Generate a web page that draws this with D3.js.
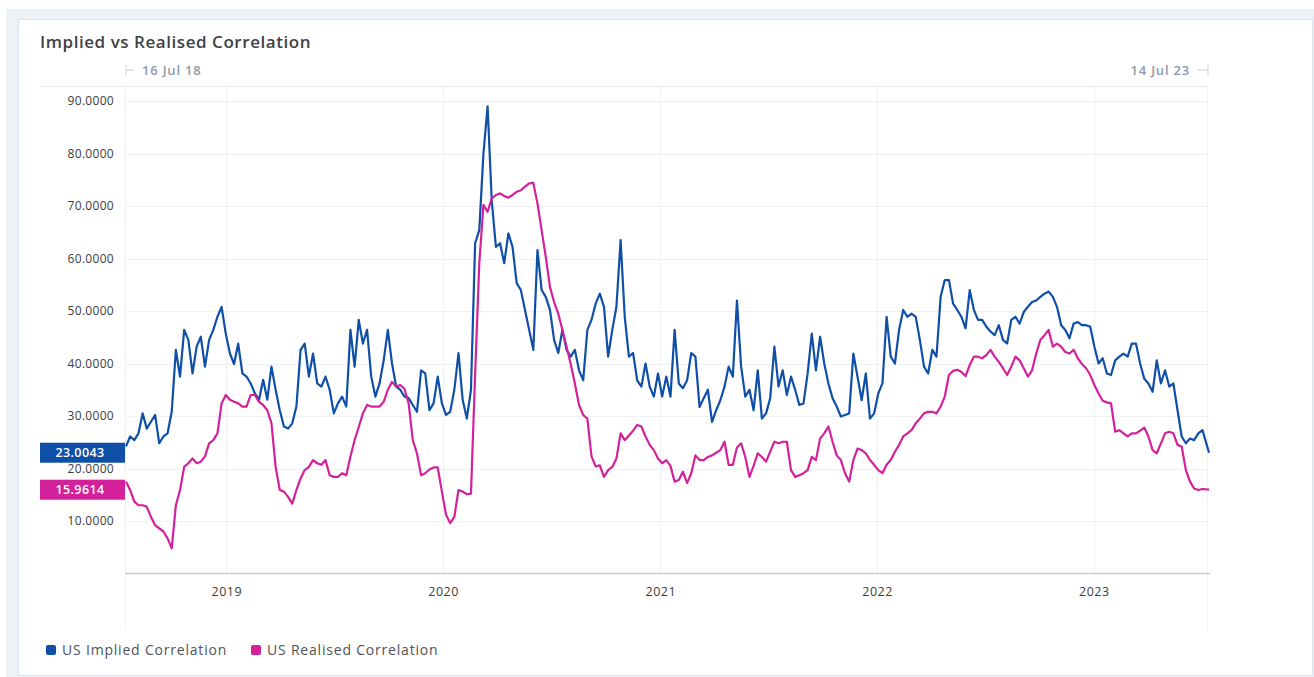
<!DOCTYPE html>
<html>
<head>
<meta charset="utf-8">
<script src="https://cdn.jsdelivr.net/npm/d3@7"></script>
<style>
  body { margin: 0; background: #fff; }
  text { font-family: "Open Sans", "Noto Sans", sans-serif; }
</style>
</head>
<body>
<div id="chart"></div>
<script>
// weekly readings, starting 16 Jul 2018, last point 14 Jul 2023
let startDate = new Date(2018, 6, 16);
let endDate = new Date(2023, 6, 14);

let seriesNames = ["US Implied Correlation", "US Realised Correlation"];
let seriesColors = ["#0f4fa8", "#d3219b"];

let impliedValues = [
    24.2, 26.1, 25.4, 26.7, 30.5, 27.6, 28.9, 30.2, 24.8, 26.1,
    26.7, 30.8, 42.6, 37.5, 46.4, 44.5, 38.1, 43.2, 45.1, 39.4,
    44.5, 46.4, 48.9, 50.8, 45.7, 41.9, 39.9, 43.8, 38.1, 37.5,
    36.2, 34.3, 33.1, 36.9, 33.1, 39.4, 35.0, 31.1, 28.0, 27.6,
    28.6, 31.8, 42.6, 43.8, 37.5, 41.9, 36.2, 35.6, 37.5, 35.0,
    30.5, 32.4, 33.7, 31.8, 46.4, 39.4, 48.3, 43.8, 46.4, 37.5,
    33.7, 36.2, 40.6, 46.4, 40.0, 35.6, 35.0, 33.7, 33.4, 32.1,
    30.8, 38.7, 38.1, 31.1, 32.4, 37.5, 32.4, 30.2, 30.8, 35.0,
    42.0, 33.1, 29.5, 35.0, 62.9, 65.4, 80.0, 89.0, 71.0, 62.2,
    62.9, 59.1, 64.8, 62.2, 55.3, 54.0, 50.2, 46.4, 42.6, 61.6,
    54.0, 52.7, 50.2, 44.5, 42.0, 46.4, 42.6, 41.3, 42.6, 38.7,
    36.8, 46.4, 48.3, 51.4, 53.3, 50.8, 41.3, 46.4, 50.8, 63.5,
    48.9, 41.3, 42.0, 36.8, 35.6, 40.0, 35.6, 33.7, 38.1, 33.7,
    37.5, 33.7, 46.4, 36.2, 35.3, 36.8, 42.0, 41.3, 31.7, 33.4,
    35.0, 28.9, 31.1, 33.0, 35.6, 39.4, 37.5, 52.0, 39.4, 33.7,
    35.0, 31.1, 38.7, 29.5, 30.5, 33.4, 43.2, 35.6, 38.7, 34.0,
    37.5, 35.0, 32.1, 32.4, 38.1, 45.7, 38.7, 45.1, 40.0, 36.2,
    33.4, 31.8, 29.9, 30.2, 30.5, 41.9, 37.5, 33.0, 38.1, 29.5,
    30.5, 34.3, 36.2, 48.9, 41.3, 40.0, 46.4, 50.2, 48.9, 49.5,
    48.9, 44.5, 39.4, 38.1, 42.6, 41.3, 52.7, 55.9, 55.9, 51.4,
    50.2, 48.9, 46.7, 54.0, 50.2, 48.3, 48.3, 47.0, 46.1, 45.4,
    47.3, 44.5, 43.8, 48.3, 48.9, 47.6, 49.8, 50.8, 51.7, 52.0,
    52.7, 53.3, 53.7, 52.7, 50.8, 47.3, 46.4, 44.8, 47.6, 47.9,
    47.3, 47.3, 47.0, 43.2, 40.0, 41.0, 38.1, 37.8, 40.6, 41.3,
    41.9, 41.3, 43.8, 43.8, 40.0, 37.1, 36.2, 34.6, 40.6, 36.2,
    38.7, 35.6, 36.2, 31.1, 26.1, 24.8, 25.7, 25.4, 26.7, 27.3,
    23.0043
];

let realisedValues = [
    17.5, 15.9, 13.7, 13.0, 13.0, 12.7, 10.8, 9.2, 8.6, 8.0,
    6.7, 4.8, 13.0, 15.9, 20.3, 21.0, 21.9, 21.0, 21.3, 22.3,
    24.8, 25.4, 26.7, 32.4, 34.0, 33.1, 32.7, 32.4, 31.8, 31.8,
    34.0, 34.0, 32.7, 32.1, 31.1, 28.6, 20.3, 15.9, 15.6, 14.6,
    13.3, 15.9, 18.1, 19.7, 20.3, 21.6, 21.0, 20.7, 21.6, 18.7,
    18.4, 18.4, 19.1, 18.7, 22.3, 25.4, 27.9, 30.5, 32.1, 31.8,
    31.8, 31.8, 32.7, 35.0, 36.5, 35.6, 35.9, 35.2, 32.4, 25.4,
    22.9, 18.7, 19.1, 19.8, 20.2, 20.2, 15.6, 11.2, 9.6, 10.8,
    15.9, 15.6, 15.1, 15.2, 38.0, 59.0, 70.2, 68.9, 71.4, 72.1,
    72.4, 71.9, 71.6, 72.1, 72.7, 73.0, 73.7, 74.3, 74.4, 70.5,
    65.4, 60.3, 54.6, 51.7, 49.5, 46.4, 43.2, 39.9, 36.2, 32.1,
    30.2, 29.5, 22.3, 20.4, 20.6, 18.4, 19.7, 20.3, 21.9, 26.7,
    25.4, 26.3, 27.2, 28.3, 28.0, 26.1, 24.5, 23.5, 21.9, 21.0,
    21.6, 20.5, 17.5, 17.8, 19.4, 17.2, 19.1, 22.5, 21.6, 21.6,
    22.2, 22.5, 23.0, 23.5, 25.1, 20.7, 20.7, 24.0, 24.8, 22.2,
    18.4, 20.5, 22.9, 22.2, 21.3, 23.2, 25.1, 24.8, 25.1, 25.1,
    19.7, 18.4, 18.7, 19.1, 19.7, 22.2, 21.6, 25.7, 26.7, 28.0,
    25.1, 22.5, 21.6, 19.1, 17.5, 21.6, 23.8, 23.5, 22.9, 21.6,
    20.7, 19.7, 19.1, 20.7, 21.6, 23.2, 24.5, 26.1, 26.7, 27.3,
    28.6, 29.5, 30.5, 30.8, 30.8, 30.5, 31.8, 33.7, 37.8, 38.6,
    38.8, 38.4, 37.6, 39.7, 41.3, 41.3, 41.0, 41.6, 42.6, 41.3,
    40.3, 39.1, 37.8, 39.4, 41.3, 40.6, 39.1, 37.5, 38.7, 41.9,
    44.5, 45.4, 46.4, 43.2, 43.8, 43.2, 42.2, 41.9, 42.6, 41.0,
    39.9, 39.1, 37.8, 35.9, 34.3, 32.9, 32.6, 32.4, 27.0, 27.3,
    26.7, 26.1, 26.7, 26.7, 27.2, 27.8, 26.1, 23.5, 22.9, 24.8,
    26.7, 27.0, 26.7, 24.5, 24.2, 19.7, 17.5, 16.2, 15.9, 16.1,
    15.9614
];

let yTicks = [10, 20, 30, 40, 50, 60, 70, 80, 90];
let yearTicks = [2019, 2020, 2021, 2022, 2023];

let W = 1314, H = 677;
let margin = {"top": 87, "left": 126, "right": 105, "bottom": 104};

let svg = d3.select("#chart").append("svg")
    .attr("width", W)
    .attr("height", H);

// panel frame
svg.append("rect").attr("x", 6).attr("y", 9).attr("width", W - 6).attr("height", H - 9).attr("fill", "#eef2f6");
svg.append("rect").attr("x", 18.5).attr("y", 19.5).attr("width", 1294).attr("height", 656)
    .attr("fill", "#fff").attr("stroke", "#dde3ea");

let x = d3.scaleTime().domain([startDate, endDate]).range([margin.left, 1209]);
let y = d3.scaleLinear().domain([0, 90]).range([573.5, 101]);

function makeRows(values){
    return values.map((v, i) => ({
        date: i === values.length - 1 ? endDate : d3.timeWeek.offset(startDate, i),
        value: v
    }));
}
let series = [makeRows(impliedValues), makeRows(realisedValues)];

// title + range labels
svg.append("text").attr("x", 40).attr("y", 48)
    .attr("font-size", 17).attr("font-weight", 600).attr("fill", "#3f4245")
    .attr("letter-spacing", 0.55)
    .text("Implied vs Realised Correlation");

svg.append("line").attr("x1", 126).attr("x2", 126).attr("y1", 65).attr("y2", 75).attr("stroke", "#c9d1da");
svg.append("line").attr("x1", 126).attr("x2", 134).attr("y1", 70).attr("y2", 70).attr("stroke", "#c9d1da");
svg.append("text").attr("x", 142).attr("y", 75)
    .attr("font-size", 13).attr("font-weight", 600).attr("fill", "#8d9aaa")
    .attr("letter-spacing", 0.8)
    .text(d3.timeFormat("%d %b %y")(startDate));

svg.append("line").attr("x1", 1208).attr("x2", 1208).attr("y1", 65).attr("y2", 75).attr("stroke", "#c9d1da");
svg.append("line").attr("x1", 1198).attr("x2", 1208).attr("y1", 70).attr("y2", 70).attr("stroke", "#c9d1da");
svg.append("text").attr("x", 1190).attr("y", 75).attr("text-anchor", "end")
    .attr("font-size", 13).attr("font-weight", 600).attr("fill", "#8d9aaa")
    .attr("letter-spacing", 0.8)
    .text(d3.timeFormat("%d %b %y")(endDate));

svg.append("line").attr("x1", 40).attr("x2", 1208).attr("y1", 86.5).attr("y2", 86.5).attr("stroke", "#e9edf1");

// grid
svg.append("g").selectAll("line").data(yTicks).enter().append("line")
    .attr("x1", margin.left).attr("x2", 1208)
    .attr("y1", d => Math.round(y(d)) + 0.5).attr("y2", d => Math.round(y(d)) + 0.5)
    .attr("stroke", "#eef1f5");

let yearDates = yearTicks.map(yr => new Date(yr, 0, 1));
svg.append("g").selectAll("line").data(yearDates).enter().append("line")
    .attr("x1", d => Math.round(x(d)) + 0.5).attr("x2", d => Math.round(x(d)) + 0.5)
    .attr("y1", 87).attr("y2", 573)
    .attr("stroke", "#eef1f5");

svg.append("line").attr("x1", 125.5).attr("x2", 125.5).attr("y1", 87).attr("y2", 630).attr("stroke", "#eef1f5");
svg.append("line").attr("x1", 1207.5).attr("x2", 1207.5).attr("y1", 87).attr("y2", 630).attr("stroke", "#eef1f5");

// y axis labels
let yAxis = d3.axisLeft(y).tickValues(yTicks).tickFormat(d3.format(".4f")).tickSize(0).tickPadding(12);
let yG = svg.append("g").attr("transform", "translate(" + margin.left + ",0)").call(yAxis);
yG.select(".domain").remove();
yG.selectAll("text").attr("font-size", 12).attr("fill", "#3c3c3c")
    .attr("letter-spacing", 0.3)
    .style("font-family", "'Open Sans', sans-serif");

// x axis
let xAxis = d3.axisBottom(x).tickValues(yearDates).tickFormat(d3.timeFormat("%Y")).tickSize(0).tickPadding(14);
let xG = svg.append("g").attr("transform", "translate(0,573)").call(xAxis);
xG.select(".domain").remove();
xG.selectAll("text").attr("font-size", 12.5).attr("fill", "#3c3c3c")
    .attr("letter-spacing", 0.5)
    .style("font-family", "'Open Sans', sans-serif");
svg.append("line").attr("x1", 125).attr("x2", 1210).attr("y1", 573.5).attr("y2", 573.5).attr("stroke", "#c5cdd6").attr("stroke-width", 1.5);

// lines
let line = d3.line().x(d => x(d.date)).y(d => y(d.value));
svg.append("g").selectAll("path").data(series).enter().append("path")
    .attr("d", line)
    .attr("fill", "none")
    .attr("stroke", (d, i) => seriesColors[i])
    .attr("stroke-width", 2.2)
    .attr("stroke-linejoin", "round");

// last value tags
let tags = svg.append("g").selectAll("g").data(series).enter().append("g")
    .attr("transform", d => "translate(40," + y(d[d.length - 1].value) + ")");
tags.append("rect").attr("x", 0).attr("y", -10).attr("width", 85).attr("height", 20)
    .attr("fill", (d, i) => seriesColors[i]);
tags.append("text").attr("x", 40).attr("y", 4.5).attr("text-anchor", "middle")
    .attr("font-size", 12.5).attr("font-weight", 600).attr("fill", "#fff")
    .attr("letter-spacing", 0.4)
    .text(d => d3.format(".4f")(d[d.length - 1].value));

// legend
let legendX = [46, 251];
let legend = svg.append("g").selectAll("g").data(seriesNames).enter().append("g")
    .attr("transform", (d, i) => "translate(" + legendX[i] + ",650)");
legend.append("rect").attr("x", 0).attr("y", -5).attr("width", 10).attr("height", 10).attr("rx", 2)
    .attr("fill", (d, i) => seriesColors[i]);
legend.append("text").attr("x", 16).attr("y", 5).attr("font-size", 14).attr("fill", "#505357")
    .attr("letter-spacing", 0.8)
    .text(d => d);
</script>
</body>
</html>
